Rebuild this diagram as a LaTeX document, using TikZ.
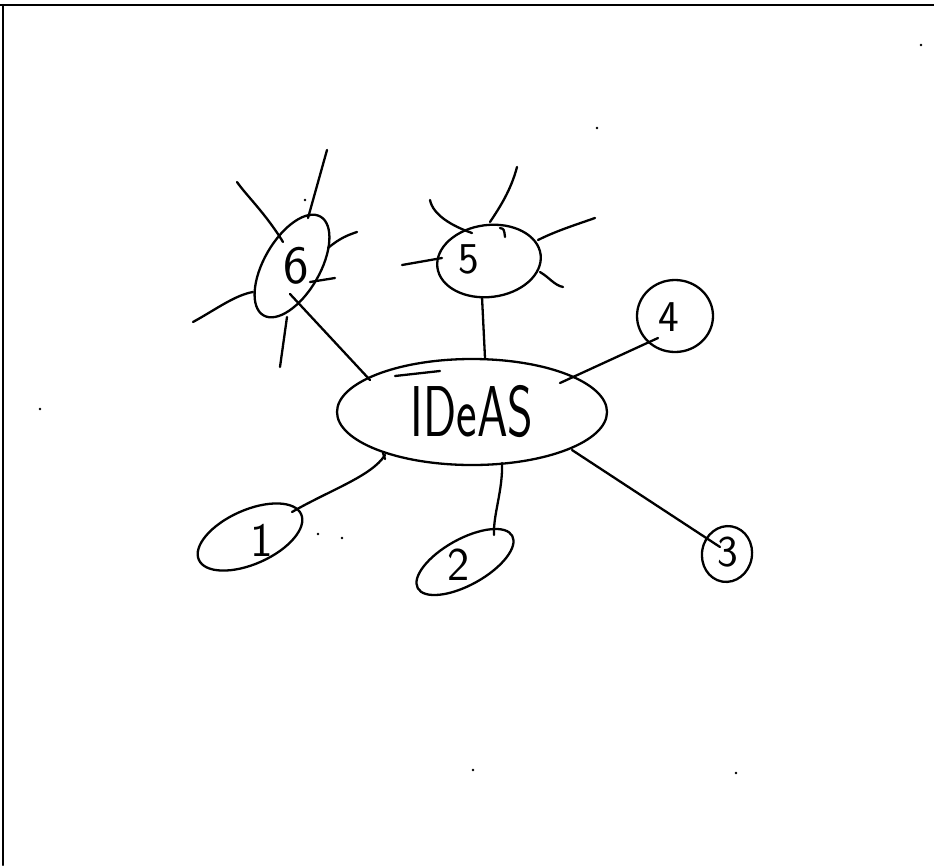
\documentclass[tikz,border=0pt]{standalone}
\usetikzlibrary{shapes.geometric}
\begin{document}
\begin{tikzpicture}[x=1pt,y=-1pt, line width=2.3pt, line cap=round, line join=round,
  blob/.style={draw, ellipse, inner sep=0pt, line width=2.3pt},
  digit/.style={inner sep=0pt, font=\fontsize{#1}{#1}\selectfont\sffamily},
  dot/.style={fill=black}]
\useasboundingbox (0,0) rectangle (934,865);
% frame
\draw[line width=2.5pt] (0,5) -- (934,5);
\draw (3,5) -- (3,865);
% central node
\node[blob, minimum width=270, minimum height=106] (ideas) at (472,412)
  {\scalebox{0.68}[1]{\fontsize{72}{72}\selectfont\sffamily IDeAS}};
\draw ([shift={(-77,-36)}]ideas.center) -- ([shift={(-32,-41)}]ideas.center);
\draw ([shift={(-89,41)}]ideas.center) -- ([shift={(-87,47)}]ideas.center);
% satellite nodes
\node[blob, rotate=60, minimum width=114, minimum height=56] (n6) at (292,266) {};
\node[digit=54] (t6) at (296,266) {6};
\node[blob, rotate=7, minimum width=104, minimum height=72] (n5) at (489,261) {};
\node[digit=44] (t5) at (469,259) {5};
\node[blob, minimum width=76, minimum height=72] (n4) at (675,316) {};
\node[digit=44] (t4) at (669,317) {4};
\node[blob, rotate=-10, minimum width=50, minimum height=56] (n3) at (727,554) {};
\node[digit=44] (t3) at (728,552) {3};
\node[blob, rotate=29, minimum width=108, minimum height=46] (n2) at (465,562) {};
\node[digit=47] (t2) at (459,565) {2};
\node[blob, rotate=24, minimum width=112, minimum height=54] (n1) at (250,537) {};
\node[digit=48] (t1) at (262,540) {1};
% free ends of rays
\coordinate (r6a) at (327,150);
\coordinate (r6b) at (237,182);
\coordinate (r6c) at (357,232);
\coordinate (r6d) at (335,278);
\coordinate (r6e) at (193,322);
\coordinate (r6f) at (280,367);
\coordinate (r5a) at (517,167);
\coordinate (r5b) at (430,200);
\coordinate (r5c) at (402,265);
\coordinate (r5d) at (595,218);
\coordinate (r5e) at (563,287);
% rays of 6
\draw ([shift={(16,-48)}]n6.center) -- (r6a);
\draw (r6b) .. controls (246,195) and (266,214) .. ([shift={(-9,-24)}]n6.center);
\draw ([shift={(36,-18)}]n6.center) .. controls (340,238) and (348,235) .. (r6c);
\draw ([shift={(18,16)}]n6.center) -- (r6d);
\draw (r6e) .. controls (215,310) and (235,295) .. ([shift={(-39,26)}]n6.center);
\draw ([shift={(-5,51)}]n6.center) -- (r6f);
% rays of 5
\draw ([shift={(1,-39)}]n5.center) .. controls (500,207) and (511,190) .. (r5a);
\draw (r5b) .. controls (433,215) and (452,226) .. ([shift={(-17,-28)}]n5.center);
\draw (r5c) -- ([shift={(-47,-3)}]n5.center);
\draw ([shift={(49,-21)}]n5.center) .. controls (556,231) and (575,225) .. (r5d);
\draw ([shift={(51,11)}]n5.center) .. controls (550,278) and (554,285) .. (r5e);
\draw ([shift={(11,-33)}]n5.center) .. controls (504,229) .. ([shift={(16,-24)}]n5.center);
% connectors to the central node
\draw ([shift={(-2,28)}]n6.center) -- ([shift={(-102,-32)}]ideas.center);
\draw ([shift={(-7,36)}]n5.center) -- ([shift={(13,-54)}]ideas.center);
\draw ([shift={(-17,22)}]n4.center) -- ([shift={(88,-29)}]ideas.center);
\draw ([shift={(100,38)}]ideas.center) -- ([shift={(-7,-7)}]n3.center);
\draw ([shift={(30,51)}]ideas.center) .. controls (503,490) and (493,515) .. ([shift={(29,-27)}]n2.center);
\draw ([shift={(42,-25)}]n1.center) .. controls (330,490) and (372,476) .. ([shift={(-87,43)}]ideas.center);
% specks
\foreach \p in {(597,128),(40,409),(921,45),(473,770),(736,773),(318,534),(342,538),(305,200)}
  \fill[dot] \p circle (1.4);
\end{tikzpicture}
\end{document}
